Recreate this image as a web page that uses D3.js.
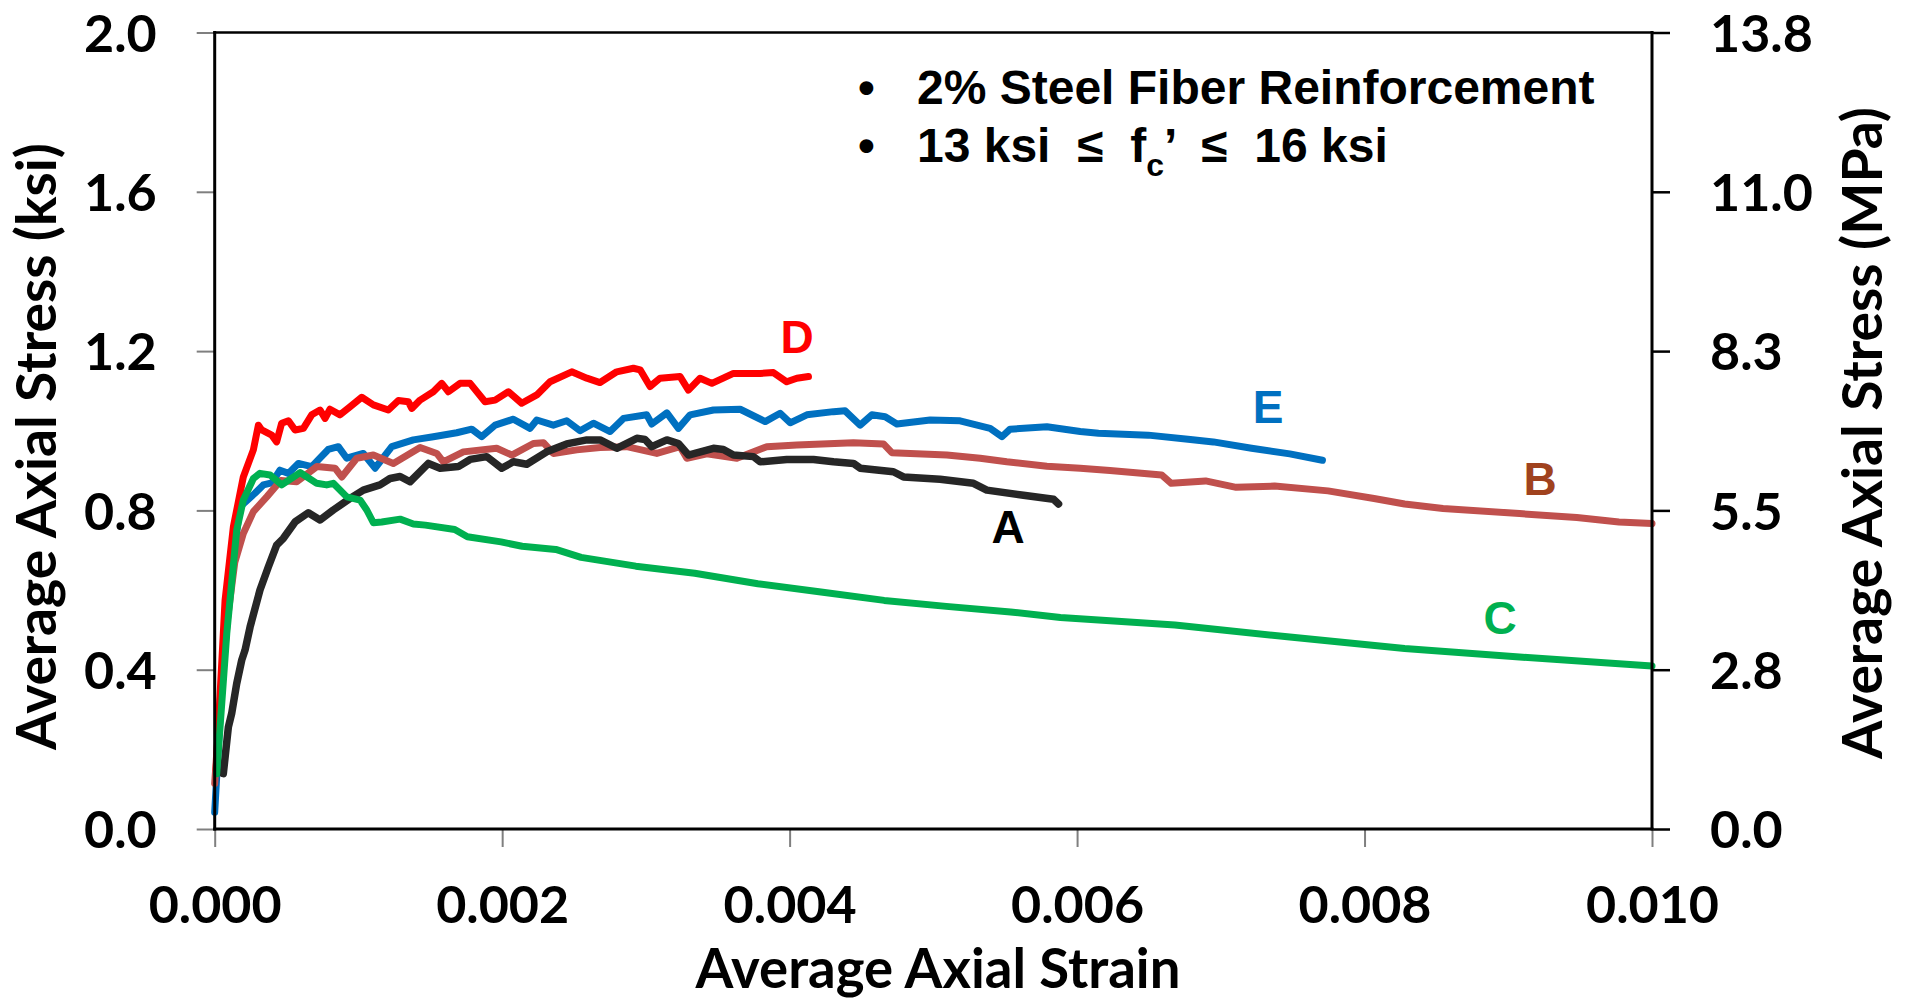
<!DOCTYPE html>
<html>
<head>
<meta charset="utf-8">
<script src="https://cdn.jsdelivr.net/npm/d3@7"></script>
<style>
  html, body { margin: 0; padding: 0; background: #fff; }
  svg { display: block; }
  .calib { font-family: Lato, "Open Sans", sans-serif; font-weight: 700; fill: #000; }
  .arial { font-family: "Liberation Sans", Arial, sans-serif; font-weight: 700; }
</style>
</head>
<body>
<svg id="chart" width="1913" height="1003"></svg>
<script>
// ---------- data ----------
const strainTicks = [0, 0.002, 0.004, 0.006, 0.008, 0.010];
const ksiTicks = [0, 0.4, 0.8, 1.2, 1.6, 2.0];
const mpaTicks = [0, 2.758, 5.516, 8.274, 11.032, 13.79];

const legendLine1 = "2% Steel Fiber Reinforcement";
const seriesNames = ["A", "B", "C", "D", "E"];

const aStrain = [0.00006,0.000095,0.000118,0.000153,0.000188,0.000211,0.000246,0.000315,0.000373,0.000431,0.000478,0.000559,0.000651,0.000733,0.000825,0.000942,0.001034,0.00115,0.00122,0.00129,0.001359,0.001487,0.001568,0.001695,0.001777,0.001893,0.001997,0.002078,0.002171,0.00231,0.002449,0.002589,0.002681,0.002797,0.002937,0.002994,0.003041,0.003146,0.003226,0.003296,0.00347,0.003539,0.003609,0.003748,0.003795,0.00398,0.004166,0.004305,0.004444,0.004491,0.004722,0.004792,0.005047,0.005279,0.005372,0.005627,0.005836,0.005871];
const aStress = [0.139,0.256,0.29,0.365,0.424,0.449,0.507,0.6,0.658,0.713,0.73,0.771,0.794,0.776,0.801,0.83,0.851,0.864,0.88,0.885,0.872,0.918,0.906,0.91,0.928,0.935,0.906,0.922,0.916,0.947,0.967,0.977,0.977,0.956,0.981,0.978,0.96,0.977,0.968,0.939,0.956,0.953,0.939,0.935,0.922,0.928,0.928,0.922,0.918,0.906,0.897,0.884,0.878,0.868,0.851,0.838,0.828,0.816];

const bStrain = [0,0.00004,0.00009,0.00014,0.000199,0.000269,0.000362,0.00046,0.000571,0.00071,0.000837,0.000884,0.000988,0.001104,0.001243,0.001429,0.001545,0.001591,0.00173,0.001962,0.002067,0.002217,0.002287,0.002356,0.002519,0.002681,0.002867,0.003076,0.003238,0.003285,0.003424,0.003633,0.003841,0.00405,0.004444,0.004653,0.004711,0.005094,0.005326,0.005511,0.00579,0.006022,0.006229,0.006588,0.006655,0.006894,0.007107,0.007374,0.007746,0.008066,0.008279,0.008546,0.009078,0.009477,0.00977,0.01];
const bStress = [0.114,0.33,0.53,0.67,0.742,0.797,0.834,0.875,0.872,0.91,0.906,0.884,0.931,0.939,0.918,0.958,0.943,0.922,0.947,0.956,0.939,0.968,0.97,0.943,0.952,0.958,0.96,0.943,0.96,0.931,0.942,0.931,0.96,0.964,0.97,0.967,0.945,0.939,0.931,0.922,0.911,0.906,0.9,0.889,0.868,0.874,0.858,0.861,0.849,0.83,0.816,0.805,0.792,0.782,0.771,0.767];

const cStrain = [0.000014,0.000084,0.000153,0.000199,0.000269,0.000315,0.000385,0.000466,0.000594,0.00071,0.000779,0.000825,0.000919,0.001011,0.001058,0.001104,0.001162,0.00129,0.001382,0.001466,0.00167,0.001758,0.001992,0.002139,0.002373,0.002549,0.00293,0.00334,0.003779,0.004218,0.004658,0.00509,0.005537,0.005884,0.006681,0.00748,0.008279,0.009078,0.01];
const cStress = [0.139,0.491,0.75,0.826,0.88,0.893,0.889,0.864,0.895,0.868,0.864,0.868,0.834,0.826,0.801,0.769,0.771,0.778,0.766,0.763,0.752,0.734,0.721,0.71,0.702,0.682,0.66,0.642,0.616,0.595,0.574,0.559,0.545,0.531,0.512,0.482,0.453,0.432,0.409];

const dStrain = [0.00001,0.000072,0.00013,0.000199,0.000269,0.000304,0.000327,0.000397,0.000431,0.000466,0.000513,0.000559,0.000617,0.000675,0.000733,0.000768,0.000802,0.000872,0.000942,0.001023,0.001104,0.001208,0.001278,0.001347,0.001371,0.001429,0.001521,0.00158,0.001626,0.001707,0.001777,0.001881,0.001951,0.002043,0.002136,0.002241,0.002333,0.002484,0.002589,0.002681,0.002797,0.002913,0.00296,0.003029,0.003099,0.003238,0.003296,0.003377,0.003459,0.003609,0.003795,0.003887,0.00398,0.00405,0.004131];
const dStress = [0.15,0.574,0.759,0.884,0.952,1.014,1.002,0.989,0.972,1.019,1.025,1.002,1.006,1.04,1.052,1.031,1.054,1.04,1.06,1.084,1.065,1.052,1.076,1.073,1.056,1.077,1.098,1.119,1.098,1.119,1.119,1.073,1.077,1.098,1.069,1.09,1.123,1.148,1.132,1.121,1.148,1.157,1.153,1.111,1.132,1.136,1.102,1.132,1.119,1.144,1.144,1.146,1.123,1.132,1.136];

const eStrain = [0,0.00004,0.0001,0.000176,0.00028,0.000338,0.000397,0.000454,0.000513,0.000582,0.000675,0.00079,0.00086,0.000919,0.001034,0.001116,0.001232,0.001382,0.001521,0.001684,0.001788,0.001858,0.001951,0.002078,0.002194,0.002241,0.002356,0.002449,0.002542,0.002635,0.002751,0.002844,0.003006,0.003041,0.003146,0.003226,0.003308,0.00347,0.003656,0.00383,0.003934,0.004004,0.00412,0.004305,0.004386,0.004491,0.004572,0.004665,0.004746,0.004978,0.005186,0.005395,0.005477,0.005534,0.00579,0.006022,0.006149,0.006495,0.006788,0.006948,0.007214,0.00748,0.007707];
const eStress = [0.042,0.3,0.6,0.809,0.843,0.864,0.869,0.901,0.893,0.918,0.91,0.953,0.96,0.931,0.943,0.906,0.96,0.977,0.985,0.995,1.004,0.985,1.014,1.029,1.006,1.027,1.014,1.025,1.0,1.019,0.998,1.031,1.04,1.017,1.045,1.006,1.04,1.052,1.054,1.023,1.044,1.02,1.04,1.048,1.05,1.014,1.04,1.035,1.017,1.027,1.025,1.006,0.985,1.004,1.01,0.998,0.994,0.989,0.978,0.972,0.956,0.942,0.926];

// ---------- layout ----------
const svg = d3.select("#chart");
const L = 214.7, R = 1652, T = 32.5, B = 829;
const x = d3.scaleLinear().domain([0, 0.010]).range([L, R]);
const y = d3.scaleLinear().domain([0, 2.0]).range([B, T]);
const yR = d3.scaleLinear().domain([0, 13.79]).range([B, T]);

const series = [
  {name: "E", xs: eStrain, ys: eStress, color: "#0070C0", w: 7},
  {name: "B", xs: bStrain, ys: bStress, color: "#C0504D", w: 7},
  {name: "D", xs: dStrain, ys: dStress, color: "#FF0000", w: 7},
  {name: "A", xs: aStrain, ys: aStress, color: "#262626", w: 7.5},
  {name: "C", xs: cStrain, ys: cStress, color: "#00B050", w: 7}
];

const line = d3.line().x(d => x(d[0])).y(d => y(d[1]));
series.forEach(s => {
  svg.append("path")
    .datum(s.xs.map((v, i) => [v, s.ys[i]]))
    .attr("d", line)
    .attr("fill", "none")
    .attr("stroke", s.color)
    .attr("stroke-width", s.w)
    .attr("stroke-linejoin", "round")
    .attr("stroke-linecap", "round");
});

// ---------- axes ----------
const fmt1 = d3.format(".1f");
const gL = svg.append("g").attr("transform", `translate(${L},0)`)
  .call(d3.axisLeft(y).tickValues(ksiTicks).tickFormat(fmt1).tickSize(18).tickPadding(40));
gL.select(".domain").remove();
gL.selectAll(".tick line").attr("stroke", "#7f7f7f").attr("stroke-width", 2);
gL.selectAll(".tick text").attr("class", "calib").attr("dy", "0.36em").style("font-size", "52px");

const gR = svg.append("g").attr("transform", `translate(${R},0)`)
  .call(d3.axisRight(yR).tickValues(mpaTicks).tickFormat(fmt1).tickSize(18).tickPadding(40));
gR.select(".domain").remove();
gR.selectAll(".tick line").attr("stroke", "#000").attr("stroke-width", 2.5);
gR.selectAll(".tick text").attr("class", "calib").attr("dy", "0.36em").style("font-size", "52px");

const gB = svg.append("g").attr("transform", `translate(0,${B})`)
  .call(d3.axisBottom(x).tickValues(strainTicks).tickFormat(d3.format(".3f")).tickSize(18));
gB.select(".domain").remove();
gB.selectAll(".tick line").attr("stroke", "#7f7f7f").attr("stroke-width", 2);
gB.selectAll(".tick text").attr("class", "calib").attr("y", 94).attr("dy", 0).style("font-size", "52px");

// frame
const frame = svg.append("g").attr("stroke", "#000").attr("stroke-linecap", "square");
frame.append("line").attr("x1", L).attr("x2", R).attr("y1", T).attr("y2", T).attr("stroke-width", 2.5);
frame.append("line").attr("x1", L).attr("x2", R).attr("y1", B).attr("y2", B).attr("stroke-width", 3);
frame.append("line").attr("x1", L).attr("x2", L).attr("y1", T).attr("y2", B).attr("stroke-width", 3);
frame.append("line").attr("x1", R).attr("x2", R).attr("y1", T).attr("y2", B).attr("stroke-width", 3);

// ---------- titles ----------
function fit(sel, target) {
  sel.style("font-size", "50px");
  const w = sel.node().getComputedTextLength();
  sel.style("font-size", (50 * target / w) + "px");
}
const tl = svg.append("text").attr("class", "calib").attr("text-anchor", "middle")
  .attr("transform", "translate(56,446.5) rotate(-90)").text("Average Axial Stress (ksi)");
fit(tl, 607);
const tr = svg.append("text").attr("class", "calib").attr("text-anchor", "middle")
  .attr("transform", "translate(1882,433) rotate(-90)").text("Average Axial Stress (MPa)");
fit(tr, 652);
const tx = svg.append("text").attr("class", "calib").attr("text-anchor", "middle")
  .attr("x", 938).attr("y", 988).text("Average Axial Strain");
fit(tx, 485);

// ---------- legend ----------
const lg = svg.append("g").attr("class", "arial").style("font-size", "48px").attr("fill", "#000");
lg.append("text").attr("x", 858).attr("y", 104).text("\u2022");
lg.append("text").attr("x", 858).attr("y", 162).text("\u2022");
lg.append("text").attr("x", 917).attr("y", 104).text(legendLine1);
const l2 = lg.append("text").attr("x", 917).attr("y", 162).style("white-space", "pre");
l2.append("tspan").text("13 ksi  \u2264  f");
l2.append("tspan").attr("dy", 14).style("font-size", "32px").text("c");
l2.append("tspan").attr("dy", -14).text("\u2019  \u2264  16 ksi");

// ---------- curve labels ----------
const labels = [
  {t: "D", x: 797, y: 353, c: "#FF0000"},
  {t: "E", x: 1268, y: 423, c: "#0070C0"},
  {t: "B", x: 1540, y: 495, c: "#A0421E"},
  {t: "C", x: 1500, y: 634, c: "#00B050"},
  {t: "A", x: 1008, y: 543, c: "#000000"}
];
svg.selectAll(".lab").data(labels).enter().append("text")
  .attr("class", "arial").attr("text-anchor", "middle")
  .attr("x", d => d.x).attr("y", d => d.y).attr("fill", d => d.c)
  .style("font-size", "46px").text(d => d.t);
</script>
</body>
</html>
